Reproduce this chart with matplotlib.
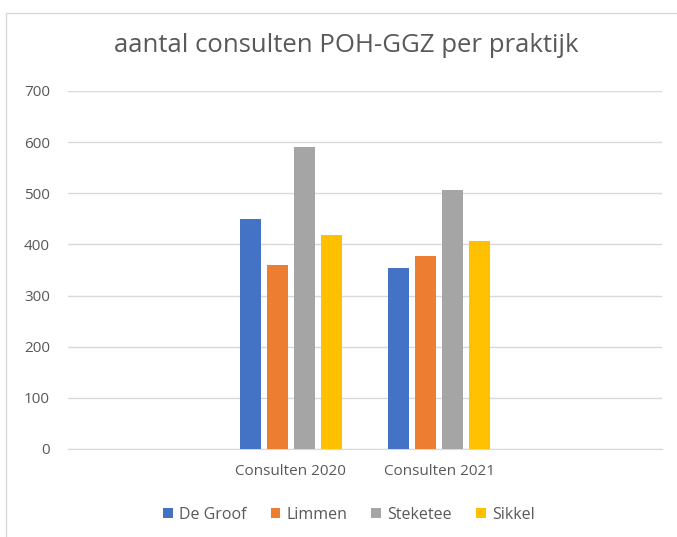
import numpy as np
import matplotlib.pyplot as plt
from matplotlib.patches import Rectangle

plt.rcParams['font.family'] = ['Open Sans', 'DejaVu Sans']

categories = ['', 'Consulten 2020', 'Consulten 2021', '']
practices = ['De Groof', 'Limmen', 'Steketee', 'Sikkel']
values_2020 = [450, 360, 590, 418]
values_2021 = [354, 378, 506, 406]
colors = ['#4472C4', '#ED7D31', '#A5A5A5', '#FFC000']

# each practice gets one value per shown year
series = [[values_2020[i], values_2021[i]] for i in range(len(practices))]

fig = plt.figure(figsize=(6.77, 5.37), dpi=100)
ax = fig.add_axes([68 / 677, 1 - 449 / 537, 594 / 677, 358 / 537])

x = np.array([1, 2])
step = 0.182
width = 0.142
for i, name in enumerate(practices):
    ax.bar(x + (i - 1.5) * step, series[i], width, color=colors[i], label=name, zorder=3)

ax.set_xlim(-0.5, 3.5)
ax.set_ylim(0, 700)
ax.set_yticks(range(0, 701, 100))
ax.set_xticks(range(len(categories)))
ax.set_xticklabels(categories)
ax.grid(axis='y', color='#D9D9D9', linewidth=1, zorder=0)
for s in ['top', 'right', 'left']:
    ax.spines[s].set_visible(False)
ax.spines['bottom'].set_color('#D9D9D9')
ax.tick_params(axis='both', length=0, colors='#595959', labelsize=11)
ax.tick_params(axis='x', pad=11, labelsize=11)
ax.tick_params(axis='y', pad=13)

fig.text(346 / 677, 1 - 46 / 537, 'aantal consulten POH-GGZ per praktijk',
         ha='center', va='center', fontsize=18.5, color='#595959')

fig.legend(loc='center', bbox_to_anchor=(349 / 677, 1 - 515 / 537), ncol=4,
           frameon=False, fontsize=11.5, labelcolor='#595959',
           handlelength=0.6, handleheight=0.6, handletextpad=0.4, columnspacing=1.5)

# chart frame
fig.patches.append(Rectangle((6 / 677, -0.1), 1.2, 1 - 13 / 537 + 0.1,
                             transform=fig.transFigure, fill=False,
                             edgecolor='#D9D9D9', linewidth=1))

fig.savefig('out.png', dpi=100)
